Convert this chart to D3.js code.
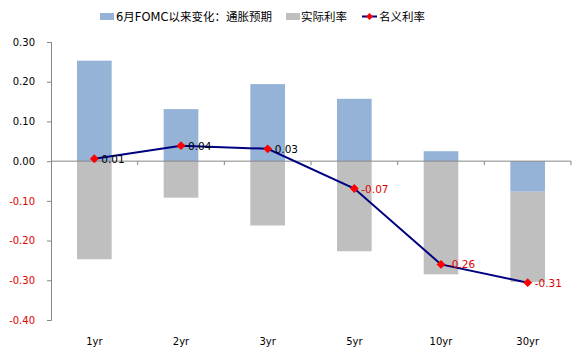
<!DOCTYPE html>
<html><head><meta charset="utf-8">
<script src="https://cdn.jsdelivr.net/npm/d3@7"></script>
<style>body{margin:0;background:#fff;}svg{display:block;}</style>
</head><body>
<script>
const categories = ["1yr","2yr","3yr","5yr","10yr","30yr"];
const inflationExp = [0.253, 0.131, 0.194, 0.157, 0.025, -0.077];
const realRate = [-0.247, -0.092, -0.162, -0.227, -0.285, -0.227];
const nominalRate = [0.006, 0.039, 0.031, -0.069, -0.26, -0.306];
const yTicks = [0.3, 0.2, 0.1, 0, -0.1, -0.2, -0.3, -0.4];
const legendLabels = ["6月FOMC以来变化：通胀预期", "实际利率", "名义利率"];

(function(){
const W = 581, H = 355;
const FONT = "'DejaVu Sans','Noto Sans CJK SC',sans-serif";
const fmt = d3.formatLocale({decimal: ".", thousands: ",", grouping: [3], currency: ["", ""], minus: "-"}).format(".2f");
const svg = d3.select("body").append("svg").attr("width", W).attr("height", H)
  .style("font-family", FONT);

const pLeft = 51, pRight = 571, pTop = 42, pBottom = 320;
const x = d3.scaleBand().domain(categories).range([pLeft, pRight]).paddingInner(0.6).paddingOuter(0.3);
const xb = d3.scaleBand().domain(categories).range([pLeft, pRight]);
const y = d3.scaleLinear().domain([-0.4, 0.3]).range([pBottom, pTop]);

const stack = categories.map((c, i) => {
  const segs = [];
  let pos = 0, neg = 0;
  [[inflationExp[i], "#95B3D7"], [realRate[i], "#BFBFBF"]].forEach(([v, col]) => {
    if (v >= 0) { segs.push({c, y0: pos, y1: pos + v, col}); pos += v; }
    else { segs.push({c, y0: neg, y1: neg + v, col}); neg += v; }
  });
  return segs;
}).flat();

svg.append("g").selectAll("rect").data(stack).join("rect")
  .attr("x", d => x(d.c))
  .attr("width", x.bandwidth())
  .attr("y", d => y(Math.max(d.y0, d.y1)))
  .attr("height", d => Math.abs(y(d.y0) - y(d.y1)))
  .attr("fill", d => d.col);

const yAxis = d3.axisLeft(y).tickValues(yTicks).tickSize(4).tickPadding(12).tickFormat(fmt);
const gy = svg.append("g").attr("transform", `translate(${pLeft},0)`).call(yAxis);
gy.select(".domain").attr("stroke", "#868686");
gy.selectAll(".tick line").attr("stroke", "#868686");
gy.selectAll(".tick text").attr("font-size", 10).attr("font-family", FONT)
  .attr("fill", d => d < 0 ? "#E00000" : "#000");

const xAxisG = svg.append("g").attr("transform", `translate(0,${y(0)})`);
xAxisG.append("line").attr("x1", pLeft).attr("x2", pRight).attr("stroke", "#868686");
xAxisG.selectAll("line.tk").data(categories).join("line").attr("class", "tk")
  .attr("x1", d => xb(d) + xb.bandwidth()).attr("x2", d => xb(d) + xb.bandwidth())
  .attr("y1", 0).attr("y2", 4).attr("stroke", "#868686");

svg.append("g").selectAll("text").data(categories).join("text")
  .attr("x", d => xb(d) + xb.bandwidth() / 2)
  .attr("y", 345)
  .attr("text-anchor", "middle").attr("font-size", 10).attr("fill", "#000")
  .text(d => d);

const pts = categories.map((c, i) => ({c, v: nominalRate[i]}));
svg.append("path").datum(pts)
  .attr("fill", "none").attr("stroke", "#000080").attr("stroke-width", 2)
  .attr("d", d3.line().x(d => xb(d.c) + xb.bandwidth() / 2).y(d => y(d.v)));

const diamond = d3.symbol().type(d3.symbolDiamond2).size(50);
svg.append("g").selectAll("path").data(pts).join("path")
  .attr("transform", d => `translate(${xb(d.c) + xb.bandwidth() / 2},${y(d.v)})`)
  .attr("d", diamond).attr("fill", "#FF0000");

svg.append("g").selectAll("text").data(pts).join("text")
  .attr("x", d => xb(d.c) + xb.bandwidth() / 2 + 7)
  .attr("y", d => y(d.v) + 4)
  .attr("font-size", 10.5)
  .attr("fill", d => d.v < 0 ? "#E00000" : "#000")
  .text(d => fmt(d.v));

const lg = svg.append("g").attr("font-size", 11.5);
lg.append("rect").attr("x", 100).attr("y", 13).attr("width", 14).attr("height", 7).attr("fill", "#95B3D7");
lg.append("text").attr("x", 116).attr("y", 20.5).text(legendLabels[0]);
lg.append("rect").attr("x", 286).attr("y", 13).attr("width", 14).attr("height", 7).attr("fill", "#BFBFBF");
lg.append("text").attr("x", 301).attr("y", 20.5).text(legendLabels[1]);
lg.append("line").attr("x1", 362).attr("x2", 377).attr("y1", 16.5).attr("y2", 16.5).attr("stroke", "#000080").attr("stroke-width", 2);
lg.append("path").attr("transform", "translate(369.5,16.5)").attr("d", d3.symbol().type(d3.symbolDiamond2).size(30)).attr("fill", "#FF0000");
lg.append("text").attr("x", 379).attr("y", 20.5).text(legendLabels[2]);
})();
</script>
</body></html>
